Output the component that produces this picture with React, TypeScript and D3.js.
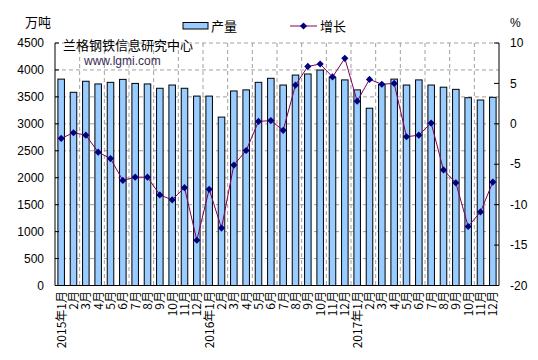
import React from "react";
import * as d3 from "d3";

const years = [2015, 2016, 2017];
const months = [1, 2, 3, 4, 5, 6, 7, 8, 9, 10, 11, 12];
const output = [
  3830, 3585, 3790, 3740, 3770, 3825, 3750, 3740, 3660, 3720, 3660, 3515,
  3515, 3125, 3610, 3630, 3770, 3845, 3720, 3905, 3925, 3998, 3865, 3815,
  3630, 3290, 3730, 3830, 3720, 3815, 3720, 3680, 3640, 3485, 3442, 3492,
];
const growth = [
  -1.8, -1.1, -1.4, -3.5, -4.3, -7.0, -6.6, -6.6, -8.8, -9.4, -7.9, -14.4,
  -8.1, -12.9, -5.1, -3.3, 0.3, 0.4, -0.8, 4.8, 7.1, 7.4, 5.8, 8.1,
  2.8, 5.5, 4.9, 5.0, -1.6, -1.4, 0.1, -5.7, -7.3, -12.7, -10.9, -7.2,
];
const leftTicks = [0, 500, 1000, 1500, 2000, 2500, 3000, 3500, 4000, 4500];
const rightTicks = [10, 5, 0, -5, -10, -15, -20];

const labels: string[] = [];
years.forEach((y) =>
  months.forEach((m) => labels.push(m === 1 ? `${y}年${m}月` : `${m}月`))
);

const W = 538, H = 360;
const L = 55, R = 499, T = 43, B = 285.5;
const font = "'Liberation Sans', Arial, 'Noto Sans CJK SC', sans-serif";
const cjk = "'Noto Sans CJK SC', sans-serif";

export default function App() {
  const idx = labels.map((_, i) => i);
  const x = d3.scaleBand<number>().domain(idx).range([L, R]).paddingInner(0.47).paddingOuter(0.235);
  const step = (R - L) / labels.length;
  const cx = (i: number) => L + (i + 0.5) * step;
  const yL = d3.scaleLinear().domain([0, 4500]).range([B, T]);
  const yR = d3.scaleLinear().domain([-20, 10]).range([B, T]);
  const line = d3.line<number>().x((_, i) => cx(i)).y((d) => yR(d));
  const diamond = (px: number, py: number, s = 3.6) =>
    `M${px},${py - s}L${px + s},${py}L${px},${py + s}L${px - s},${py}Z`;
  const vgrid = d3.range(2, labels.length, 2).map((k) => L + k * step);

  return (
    <svg width={W} height={H} style={{ position: "absolute", left: 0, top: 0, background: "#fff" }}>
      <rect x={0} y={0} width={W} height={H} fill="#fff" />
      {/* grid */}
      {leftTicks.filter((t) => t > 0).map((t) => (
        <line key={"h" + t} x1={L} x2={R} y1={yL(t)} y2={yL(t)} stroke="#a0a0a0" strokeDasharray="4,3" />
      ))}
      {vgrid.map((gx, k) => (
        <line key={"v" + k} x1={gx} x2={gx} y1={T} y2={B} stroke="#a0a0a0" strokeDasharray="4,3" />
      ))}
      {/* bars */}
      {output.map((v, i) => (
        <rect key={"b" + i} x={x(i)!} y={yL(v)} width={x.bandwidth()} height={B - yL(v)} fill="#99ccff" stroke="#000" strokeWidth={1} />
      ))}
      {/* axes */}
      <line x1={L} x2={L} y1={T} y2={B} stroke="#000" />
      <line x1={R} x2={R} y1={T} y2={B} stroke="#000" />
      <line x1={L} x2={R} y1={B} y2={B} stroke="#000" />
      {leftTicks.map((t) => (
        <g key={"lt" + t}>
          <line x1={L} x2={L + 4} y1={yL(t)} y2={yL(t)} stroke="#000" />
          <text x={44} y={yL(t)} dy="0.35em" textAnchor="end" fontFamily={font} fontSize={12} fill="#000">{t}</text>
        </g>
      ))}
      {rightTicks.map((t) => (
        <g key={"rt" + t}>
          <line x1={R - 5} x2={R} y1={yR(t)} y2={yR(t)} stroke="#000" />
          <text x={510} y={yR(t)} dy="0.35em" textAnchor="start" fontFamily={font} fontSize={12} fill="#000">{t}</text>
        </g>
      ))}
      {/* line */}
      <path d={line(growth) || ""} fill="none" stroke="#800060" strokeWidth={1} />
      {growth.map((g, i) => (
        <path key={"m" + i} d={diamond(cx(i), yR(g))} fill="#000080" />
      ))}
      {/* x labels */}
      {labels.map((lab, i) => (
        <text key={"xl" + i} transform={`translate(${cx(i) + 4.5},291) rotate(-90)`} textAnchor="end" fontFamily={cjk} fontSize={12} fill="#000">{lab}</text>
      ))}
      {/* units */}
      <text x={25} y={27} fontFamily={cjk} fontSize={13} fill="#000">万吨</text>
      <text x={510} y={27} fontFamily={font} fontSize={12} fill="#000">%</text>
      {/* legend */}
      <rect x={183} y={22.5} width={25} height={6.5} fill="#99ccff" stroke="#000" />
      <text x={211} y={26} dy="0.38em" fontFamily={cjk} fontSize={13} fill="#000">产量</text>
      <line x1={290} x2={317} y1={26} y2={26} stroke="#800060" />
      <path d={diamond(303.5, 26)} fill="#000080" />
      <text x={320} y={26} dy="0.38em" fontFamily={cjk} fontSize={13} fill="#000">增长</text>
      {/* watermark */}
      <text x={63} y={45} dy="0.38em" fontFamily={cjk} fontSize={13} fill="#000">兰格钢铁信息研究中心</text>
      <text x={84} y={61} dy="0.35em" fontFamily={font} fontSize={12} fill="#3a2a55">www.lgmi.com</text>
    </svg>
  );
}
